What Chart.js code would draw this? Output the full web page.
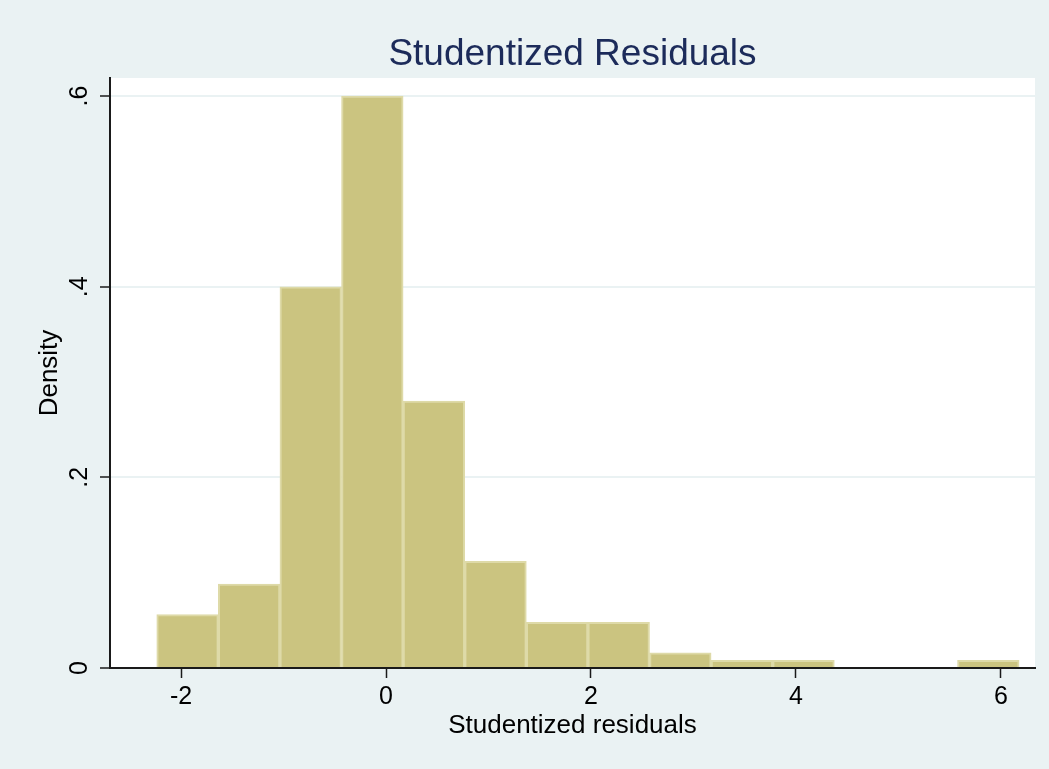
<!DOCTYPE html>
<html>
<head>
<meta charset="utf-8">
<title>Studentized Residuals</title>
<script src="https://cdn.jsdelivr.net/npm/chart.js@4.4.1/dist/chart.umd.min.js"></script>
<style>
  html, body { margin: 0; padding: 0; background: #eaf2f3; }
  #wrap { width: 1049px; height: 769px; }
</style>
</head>
<body>
<div id="wrap"><canvas id="hist" width="1049" height="769"></canvas></div>
<script>
// histogram bins (studentized residuals) and their densities
const binEdges = [-2.237, -1.636, -1.035, -0.434, 0.167, 0.768, 1.369, 1.970, 2.571, 3.172, 3.773, 4.374, 4.975, 5.576, 6.177];
const densities = [0.056, 0.088, 0.400, 0.600, 0.280, 0.112, 0.048, 0.048, 0.016, 0.008, 0.008, 0, 0, 0.008];

const xTicks = [-2, 0, 2, 4, 6];
const xTickLabels = ['-2', '0', '2', '4', '6'];
const yTicks = [0, 0.2, 0.4, 0.6];
const yTickLabels = ['0', '.2', '.4', '.6'];

const chartTitle = 'Studentized Residuals';

const FONT = "'Liberation Sans', Helvetica, Arial, sans-serif";
const BG = '#eaf2f3';
const INK = '#1a1a1a';

// paint the outer (light blue-grey) and plot region (white) backgrounds
const backgrounds = {
    id: 'backgrounds',
    beforeDraw(chart) {
        const {ctx, chartArea} = chart;
        ctx.save();
        ctx.fillStyle = BG;
        ctx.fillRect(0, 0, chart.width, chart.height);
        ctx.fillStyle = '#ffffff';
        ctx.fillRect(chartArea.left, chartArea.top, chartArea.right - chartArea.left, chartArea.bottom - chartArea.top);
        ctx.restore();
    }
};

// Stata centres the title over the plot region, not the whole canvas
const plotTitle = {
    id: 'plotTitle',
    afterDraw(chart) {
        const {ctx, chartArea} = chart;
        ctx.save();
        ctx.fillStyle = '#1c2b5a';
        ctx.font = '37px ' + FONT;
        ctx.textAlign = 'center';
        ctx.textBaseline = 'alphabetic';
        ctx.fillText(chartTitle, (chartArea.left + chartArea.right) / 2, 65);
        ctx.restore();
    }
};

const bins = densities.map((d, i) => ({ x: (binEdges[i] + binEdges[i + 1]) / 2, y: d }));

new Chart(document.getElementById('hist'), {
    type: 'bar',
    data: {
        datasets: [{
            label: 'Density',
            data: bins,
            backgroundColor: '#cbc480',
            borderColor: '#dedaa8',
            borderWidth: 2,
            borderSkipped: 'start',
            barPercentage: 1,
            categoryPercentage: 1
        }]
    },
    options: {
        responsive: false,
        animation: false,
        devicePixelRatio: 1,
        layout: { padding: { left: 0, right: 14, top: 78, bottom: 0 } },
        plugins: {
            legend: { display: false },
            tooltip: { enabled: false },
            title: { display: false }
        },
        scales: {
            x: {
                type: 'linear',
                min: -2.693,
                max: 6.332,
                offset: false,
                afterBuildTicks: (scale) => { scale.ticks = xTicks.map(v => ({ value: v })); },
                afterFit: (scale) => { scale.height = 101; },
                grid: {
                    offset: false,
                    drawOnChartArea: false,
                    drawTicks: true,
                    tickLength: 10,
                    tickColor: INK,
                    tickWidth: 1.5
                },
                border: { display: true, color: INK, width: 2, z: 1 },
                ticks: {
                    color: '#000',
                    padding: 4,
                    maxRotation: 0,
                    autoSkip: false,
                    font: { family: FONT, size: 25 },
                    callback: (value) => xTickLabels[xTicks.indexOf(value)]
                },
                title: {
                    display: true,
                    text: 'Studentized residuals',
                    color: '#000',
                    font: { family: FONT, size: 26 },
                    padding: { top: 0, bottom: 28 }
                }
            },
            y: {
                type: 'linear',
                min: 0,
                max: 0.619,
                afterBuildTicks: (scale) => { scale.ticks = yTicks.map(v => ({ value: v })); },
                afterFit: (scale) => { scale.width = 110; },
                grid: {
                    color: BG,
                    lineWidth: 2,
                    drawTicks: true,
                    tickLength: 10,
                    tickColor: INK,
                    tickWidth: 1.5
                },
                border: { display: true, color: INK, width: 2, z: 1 },
                ticks: {
                    color: '#000',
                    padding: 9,
                    minRotation: 90,
                    maxRotation: 90,
                    crossAlign: 'center',
                    autoSkip: false,
                    font: { family: FONT, size: 25 },
                    callback: (value) => yTickLabels[yTicks.indexOf(value)]
                },
                title: {
                    display: true,
                    text: 'Density',
                    color: '#000',
                    font: { family: FONT, size: 26 },
                    padding: { top: 34, bottom: 0 }
                }
            }
        }
    },
    plugins: [backgrounds, plotTitle]
});
</script>
</body>
</html>
